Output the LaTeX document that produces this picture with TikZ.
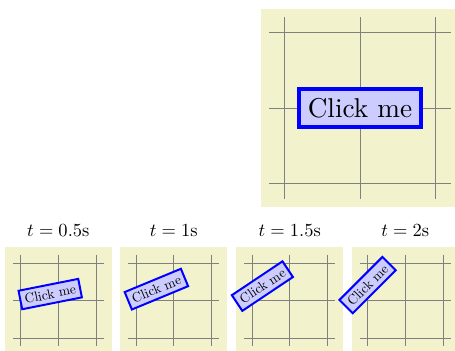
\documentclass[tikz,border=0pt]{standalone}
\definecolor{panelbg}{RGB}{242,242,204}
\tikzset{
  panel/.style={fill=panelbg, draw=none},
  gridline/.style={draw=gray, line width=0.45pt},
  clickbox/.style={fill=blue!20, draw=blue, inner sep=3.33pt},
  title/.style={anchor=base, inner sep=0pt, scale=1.12}
}
\begin{document}
\begin{tikzpicture}[x=0.606pt, y=0.606pt]
\useasboundingbox (0,0) rectangle (455,351);
\clip (0,0) rectangle (455,351);
% main panel
\begin{scope}[shift={(360,243)}, x=45.9pt, y=45.9pt]
  \fill[panel] (-1.31,-1.31) rectangle (1.31,1.31);
  \foreach \g in {-1,0,1}{
    \draw[gridline] (\g,-1.2) -- (\g,1.2);
    \draw[gridline] (-1.2,\g) -- (1.2,\g);
  }
  \node[clickbox, scale=1.65, line width=2.4pt] (main) at (0,0) {Click me};
\end{scope}
% snapshots
\foreach \cx/\ang/\lab/\nm in {58.3/11.25/0.5/a, 173.7/22.5/1/b, 289.7/33.75/1.5/c, 405.3/45/2/d}{
  \node[title] (t\nm) at (\cx,114) {$t=\lab$s};
  \begin{scope}[shift={(\cx,50.3)}, x=22.85pt, y=22.85pt]
    \fill[panel] (-1.42,-1.42) rectangle (1.42,1.42);
    \foreach \g in {-1,0,1}{
      \draw[gridline, line width=0.4pt] (\g,-1.2) -- (\g,1.2);
      \draw[gridline, line width=0.4pt] (-1.2,\g) -- (1.2,\g);
    }
    \begin{scope}[rotate around={\ang:(-1,-1)}, transform shape]
      \node[clickbox, scale=0.82, line width=1.2pt] (n\nm) at (0,0) {Click me};
    \end{scope}
  \end{scope}
}
\end{tikzpicture}
\end{document}
